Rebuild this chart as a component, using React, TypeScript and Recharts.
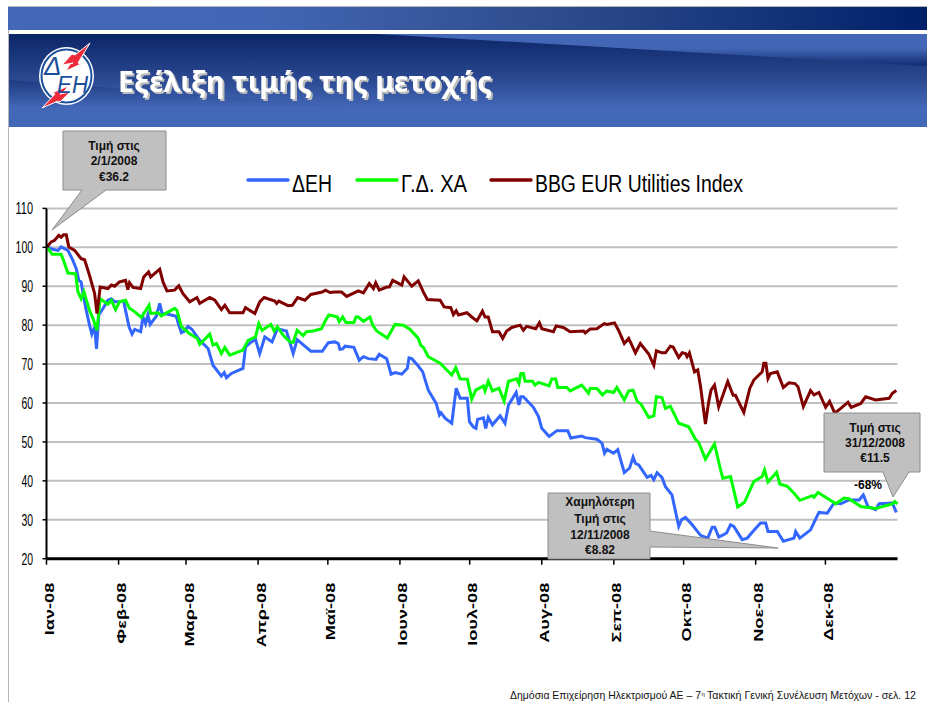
import React from 'react';
import { LineChart, Line, XAxis, YAxis, CartesianGrid } from 'recharts';

const FONT = '"Liberation Sans", Arial, sans-serif';

const monthDays = [0, 31, 60, 91, 121, 152, 182, 213, 244, 274, 305, 335];
const monthLabels = ['Ιαν-08', 'Φεβ-08', 'Μαρ-08', 'Απρ-08', 'Μαϊ-08', 'Ιουν-08', 'Ιουλ-08', 'Αυγ-08', 'Σεπ-08', 'Οκτ-08', 'Νοε-08', 'Δεκ-08'];
const yTicks = [20, 30, 40, 50, 60, 70, 80, 90, 100, 110];

const seriesNames = ['ΔΕΗ', 'Γ.Δ. ΧΑ', 'BBG EUR Utilities Index'];
const seriesColors = ['#3366ff', '#00ff00', '#800000'];

// day of year
const deiDays = [0.2, 2.7, 4.9, 6.3, 9.2, 11.3, 12.8, 13.9, 14.9, 15.7, 17.1, 18.5, 19.5, 20.7, 21.5, 22.5, 24.3, 26.4, 27.9, 29.3, 31.4, 33.2, 34, 35.5, 36.8, 37.9, 40.5, 41.5, 42.6, 43.6, 44.6, 47.2, 48.7, 49.7, 52.3, 55.8, 56.9, 58, 59.4, 60.9, 62.6, 65.9, 69.5, 71.6, 75.2, 76.4, 77.4, 79.5, 84.5, 85.6, 88.1, 89.9, 91.7, 93.9, 97, 99.3, 103.2, 106.1, 107.8, 111.1, 113.7, 118.6, 121.2, 124, 125.5, 126.2, 127.4, 128.4, 132.2, 134.5, 136.3, 138.4, 141.7, 143.1, 146.3, 148.2, 149.9, 152.8, 155.2, 155.9, 157.1, 159.9, 161.8, 164.2, 167.6, 169, 169.7, 171.4, 174.3, 176.2, 177.9, 181, 181.9, 183.5, 184.7, 185.4, 187.9, 188.9, 190, 191.8, 195.1, 197.2, 198.7, 202, 203.2, 204, 205.1, 209.4, 211.6, 213, 216.2, 219.5, 224.2, 225.5, 230.2, 231.7, 236.7, 238.9, 240, 241, 243.9, 245.7, 248.5, 250.8, 252.3, 253.3, 254.7, 258.3, 260, 261.2, 262.6, 264.7, 266.2, 269, 271.9, 273.1, 274.8, 277.7, 281.3, 284.4, 286.3, 287.4, 289.1, 290.6, 292.5, 294.2, 295.6, 299.2, 301.4, 303.5, 307.1, 309.3, 310.3, 314.3, 316.9, 321.5, 322.2, 324, 328.6, 332.2, 335.8, 338.7, 341.6, 345.1, 349.5, 351.3, 353.3, 356.6, 358.1, 363.8, 365.5];
const deiValues = [100.1, 99.5, 99.2, 100.1, 99.2, 96.7, 94.5, 91.5, 91.1, 88.1, 83.8, 80, 77.7, 79.6, 73.9, 82.6, 84.3, 86.4, 86.8, 86, 86, 86.2, 83.8, 79.6, 77.7, 78.9, 78.3, 82.1, 80.4, 82.6, 80.2, 82.3, 85.6, 83, 82.8, 82.3, 80, 78.1, 78.5, 79.7, 78.9, 76.1, 74, 69.7, 66.9, 67.8, 66.5, 67.6, 68.9, 74.4, 75.7, 76.3, 72.7, 77, 75.7, 79.1, 78.5, 72.7, 76.3, 74.6, 73.3, 73.3, 75.5, 75.7, 75.3, 73.8, 73.9, 74.6, 74.3, 71, 71.9, 71.4, 71.2, 72.5, 71.4, 67.4, 67.8, 67.4, 68.9, 71.6, 71.4, 69.5, 68, 63.3, 59.9, 56.9, 57.5, 56.1, 54.8, 63.8, 61.2, 61.2, 55.2, 53.9, 53.5, 55.8, 56.2, 53.5, 56.3, 54.4, 56.7, 54.8, 59.5, 62.7, 59.5, 61.6, 61.6, 58.9, 56.5, 53.5, 51.4, 52.9, 52.9, 51, 51.5, 51.1, 50.7, 49.7, 47.1, 48.1, 47.1, 48, 42.1, 43.3, 46.1, 44.5, 44.1, 40.9, 41.4, 40.3, 42.1, 40.9, 38.5, 36.4, 28.3, 30, 30.6, 28.7, 26, 25.3, 28.1, 28.1, 25.6, 26, 26.6, 28.7, 28.3, 24.9, 25.3, 26.8, 29.2, 29.2, 27, 27, 24.5, 25.3, 27, 25.3, 27.4, 31.9, 31.7, 34.3, 34.1, 35.1, 35.1, 36.4, 33.4, 32.6, 34.1, 34.3, 31.9];

const gdDays = [0.2, 2.4, 6.3, 7.3, 9.2, 12.5, 13.5, 14.9, 16.1, 18.5, 20, 21.7, 23.1, 26.4, 27.9, 29.7, 31.4, 34, 35.7, 37.2, 40.8, 44.1, 44.8, 48, 49.4, 55.1, 56.1, 58, 61.6, 64.9, 65.9, 70.2, 71.6, 73.1, 75.2, 76.7, 78.8, 84.5, 86.7, 89.9, 91.3, 92.7, 96.5, 97.9, 99.3, 101.8, 104.7, 106.1, 107.8, 110.4, 111.8, 114.7, 118.3, 119.7, 121.4, 124, 125.1, 125.9, 127.4, 128.8, 132.2, 133.1, 134.1, 136.3, 139.1, 140.3, 142, 146.6, 149.9, 153.5, 156.4, 159.9, 160.9, 162.1, 164.2, 169.3, 174.3, 176, 177.9, 181, 182.9, 184.6, 187.9, 188.6, 190, 191.8, 194.6, 196.8, 198.7, 202.2, 203.2, 204, 205.1, 205.8, 209, 210.1, 211.6, 216.2, 217.3, 219, 219.9, 223.8, 225.2, 230.2, 233.1, 233.8, 236.7, 239.1, 241, 243.9, 245.3, 248.5, 250.4, 252.3, 254, 255.7, 259, 261.2, 262.3, 264.7, 266.2, 268.3, 271.9, 276.2, 279.1, 280.5, 283.4, 287.3, 289.9, 290.9, 294.2, 297.3, 300.2, 304.2, 307.8, 308.8, 310.3, 314, 315.4, 318.6, 321.5, 324, 329.4, 330.1, 331.8, 338, 339.4, 343, 345.1, 350.2, 356.6, 363.8, 364.8, 366];
const gdValues = [100.1, 98.2, 98.2, 96.7, 93.4, 93.2, 88.6, 86.8, 88.6, 83.8, 81.7, 78.7, 86.8, 85.4, 86.4, 84, 86, 86.4, 84.3, 83.8, 82, 85.1, 83, 83.2, 82.4, 84.3, 83.8, 79.6, 77.8, 76.6, 75.1, 77.7, 74.9, 75.3, 72.7, 74.3, 72.3, 73.6, 76.1, 77, 80.4, 78.7, 80.2, 78.5, 79.6, 77.4, 75.7, 75.6, 78.7, 77.3, 78.3, 78.5, 79.1, 80.9, 82.6, 82.3, 82.1, 80.9, 82.1, 80.7, 80.7, 82.1, 82.1, 81, 82.1, 80, 78.5, 76.7, 80.2, 80, 78.9, 76.6, 74.9, 74.3, 71.9, 70.2, 67.2, 69.1, 66.2, 66.1, 61, 63.3, 64.4, 63.1, 65.6, 63.1, 63.8, 60.5, 65.6, 66.2, 65, 67.6, 67.6, 65.6, 65.6, 64.6, 65.3, 64.4, 66.2, 66.2, 64, 64, 63.1, 64.6, 62.5, 63.7, 63.7, 62.1, 63.1, 62.7, 64, 60.8, 63.1, 63.3, 60.5, 59.7, 56.3, 56.7, 61.6, 61.4, 58.6, 59.2, 54.8, 53.9, 50.7, 49.9, 45.6, 49.5, 42.8, 40.7, 41.1, 33.3, 34.5, 39.8, 41.1, 42.8, 39.7, 42.2, 39.2, 38.6, 36.8, 35, 36.2, 35.8, 37, 34.7, 34.1, 35.6, 35.4, 33.4, 32.9, 34.1, 34.7, 34.1];

const bbgDays = [0.2, 2, 3.5, 5.3, 6.3, 7.3, 8.5, 9.6, 12.1, 14.9, 16.4, 18.5, 20.7, 21.7, 23.1, 26.4, 27.9, 29.3, 31.4, 34, 35, 35.7, 37.2, 40.5, 41.8, 43.9, 44.8, 48.7, 50.1, 51.8, 55.1, 56.9, 58.7, 61.6, 64.7, 65.9, 70.2, 72.4, 75.2, 76.7, 78.8, 84.5, 85.6, 89.6, 91.7, 93.6, 98.2, 99, 99.9, 103.9, 105.7, 108, 111.1, 113.7, 118.6, 120, 121.9, 124, 126.9, 129.1, 134.1, 136.3, 138.8, 140.6, 141.6, 143.1, 146.3, 147.5, 148.9, 152.8, 153.8, 157.1, 159.9, 162.1, 163.8, 169.3, 171, 173.9, 175, 176.2, 177.2, 180.8, 182.9, 185.1, 187.5, 188.6, 190, 191.8, 194.6, 196.2, 197.9, 200.1, 203.7, 205.1, 206.5, 210.4, 212, 213, 218, 219.2, 222.3, 225.2, 231, 231.7, 233.8, 236.7, 239.9, 241, 244.3, 246, 248.5, 250.4, 253.3, 255.4, 259, 261.2, 262.3, 264.7, 266.2, 268.3, 269.5, 271.9, 273.4, 274.8, 275.5, 276.5, 278.7, 280.1, 281.3, 283.4, 284.8, 285.8, 287.3, 289.1, 293, 295.3, 296.3, 299.9, 302.5, 304.2, 307.8, 308.5, 309.4, 310.3, 311.4, 314.3, 316.9, 319.3, 321.9, 323.2, 325.5, 328.6, 330.1, 332.2, 335.1, 336.8, 339, 341.6, 344.7, 346.1, 350.2, 352.3, 356.6, 362.4, 363.8, 365.5];
const bbgValues = [100.1, 101.4, 101.8, 103.1, 102.6, 103.2, 103.2, 100.1, 99.2, 97.1, 96.8, 92.8, 88.1, 83, 89.8, 89.4, 90.3, 90, 91.1, 91.5, 89.1, 90.9, 89.7, 89.4, 92.4, 93.7, 92.4, 94.4, 91.1, 88.8, 89, 90.1, 88.1, 86, 87.1, 85.6, 87.1, 86.4, 84, 85.1, 83.2, 83.2, 84.5, 83, 86, 87.1, 86.2, 85.6, 86.2, 85, 85.1, 87.1, 86.4, 87.9, 88.5, 89, 88.4, 88.5, 88.5, 87.4, 88.8, 88.3, 90.7, 89.4, 90.9, 89, 89.8, 89.8, 91.5, 90.3, 92.4, 90, 91.4, 88.5, 86.6, 86.4, 84.7, 84.5, 82.7, 83.7, 82.6, 83.2, 82.1, 81.1, 83.6, 82.1, 82.1, 78.3, 78.3, 76.6, 78.5, 79.4, 80, 78.7, 79.7, 79.1, 80.6, 79.1, 78.3, 79.8, 79.4, 78.3, 78.5, 78, 79, 79.1, 80.4, 80.2, 80.6, 78.7, 75.3, 76.6, 72.9, 75.3, 72.6, 69.7, 73.4, 72.9, 72.9, 74.6, 74.4, 71.7, 72.9, 72.7, 71.9, 72.9, 68, 68.5, 64.2, 54.6, 60.3, 63.3, 64.6, 59, 65.5, 62, 62, 57.6, 63.8, 65.9, 68, 70.2, 70.2, 66.3, 67.6, 68, 64, 65.2, 65, 64.2, 59.1, 63.2, 62.1, 62.7, 58.9, 60.4, 57.4, 58.6, 60.2, 58.9, 59.9, 61.6, 60.8, 61.2, 62.5, 63.2];

const toPoints = (days: number[], values: number[]) =>
  days.map((day, i) => ({ day, value: values[i] }));

const MonthTick = ({ x, y, index }: any) => (
  <text
    transform={`translate(${x + 7.5},${y + 18}) rotate(-90) scale(1.3,0.95)`}
    textAnchor="end"
    fontFamily={FONT}
    fontWeight="bold"
    fontSize={14}
    fill="#000"
  >
    {monthLabels[index]}
  </text>
);

const ValueTick = ({ y, payload }: any) => {
  const label = String(payload.value);
  return (
    <text
      x={33}
      y={y + 6}
      textAnchor="end"
      fontFamily={FONT}
      fontSize={16}
      fill="#000"
      textLength={label.length * 5.8}
      lengthAdjust="spacingAndGlyphs"
    >
      {label}
    </text>
  );
};

const Callout = ({ shape, lines, cx, ys }: { shape: string; lines: string[]; cx: number; ys: number[] }) => (
  <g>
    <path d={shape} fill="#c0c0c0" stroke="#8c8c8c" strokeWidth={1} />
    {lines.map((line, i) => (
      <text key={line} x={cx} y={ys[i]} textAnchor="middle" fontFamily={FONT} fontWeight="bold" fontSize={12} fill="#111">
        {line}
      </text>
    ))}
  </g>
);

const Header = () => (
  <svg width={927} height={130} style={{ position: 'absolute', left: 0, top: 0 }}>
    <defs>
      <linearGradient id="topBar" x1="0" y1="0" x2="1" y2="0">
        <stop offset="0" stopColor="#4468b8" />
        <stop offset="0.28" stopColor="#4366b4" />
        <stop offset="0.6" stopColor="#2e4c8c" />
        <stop offset="1" stopColor="#00206a" />
      </linearGradient>
      <linearGradient id="bannerBase" x1="0" y1="0" x2="0" y2="1">
        <stop offset="0" stopColor="#0b2567" />
        <stop offset="0.5" stopColor="#2c4a92" />
        <stop offset="0.8" stopColor="#4468b8" />
        <stop offset="1" stopColor="#4468b8" />
      </linearGradient>
      <linearGradient id="bannerLow" x1="0" y1="0" x2="0" y2="1">
        <stop offset="0" stopColor="#1d3a80" />
        <stop offset="0.6" stopColor="#4468b8" />
        <stop offset="1" stopColor="#4468b8" />
      </linearGradient>
      <linearGradient id="bannerSliver" x1="0" y1="0" x2="0" y2="1">
        <stop offset="0" stopColor="#4468b8" />
        <stop offset="0.45" stopColor="#4266b4" />
        <stop offset="1" stopColor="#0f2a70" />
      </linearGradient>
    </defs>
    <rect x={8} y={7} width={919} height={23} fill="url(#topBar)" />
    <rect x={9} y={34} width={918} height={93} fill="url(#bannerBase)" />
    <polygon points="9,80 460,115 927,122 927,127 9,127" fill="url(#bannerLow)" />
    <polygon points="377,34 927,34 927,66" fill="url(#bannerSliver)" />

    {/* company logo */}
    <ellipse cx={66.5} cy={76} rx={27.5} ry={29} fill="#fff" />
    <ellipse cx={66.5} cy={76} rx={25} ry={26.5} fill="none" stroke="#1b4f9c" strokeWidth={2} />
    <polygon points="90,43 78,63 81,64 66,71 70,64 73,63 62,65 72,54 75,55" fill="#ee2b3b" stroke="#fff" strokeWidth={1} />
    <polygon points="42,108 55,94 52,93 68,86 63,93 60,94 70,92 60,102 58,101" fill="#ee2b3b" stroke="#fff" strokeWidth={1} />
    <text x={44} y={75} fontFamily={FONT} fontStyle="italic" fontSize={26} fill="#1b4f9c">Δ</text>
    <text x={57} y={93} fontFamily={FONT} fontStyle="italic" fontSize={24} fill="#1b4f9c" textLength={31} lengthAdjust="spacingAndGlyphs">ΕΗ</text>

    <text
      x={118}
      y={92}
      fontFamily='"Noto Sans", sans-serif'
      fontWeight="bold"
      fontSize={29}
      fill="#fff"
      textLength={374}
      lengthAdjust="spacingAndGlyphs"
      style={{ filter: 'drop-shadow(2px 2px 0 #bcbcbc)' }}
    >
      Εξέλιξη τιμής της μετοχής
    </text>
  </svg>
);

const legendLines = [248, 357, 491];
const legendWidths = [40, 66, 208];

const Overlay = () => (
  <svg width={927} height={702} style={{ position: 'absolute', left: 0, top: 0, pointerEvents: 'none' }}>
    {seriesNames.map((name, i) => (
      <g key={name}>
        <line x1={legendLines[i]} x2={legendLines[i] + 40} y1={180} y2={180} stroke={seriesColors[i]} strokeWidth={3.5} strokeLinecap="round" />
        <text
          x={legendLines[i] + 44}
          y={192}
          fontFamily={FONT}
          fontSize={23}
          fill="#000"
          textLength={legendWidths[i]}
          lengthAdjust="spacingAndGlyphs"
        >
          {name}
        </text>
      </g>
    ))}

    <Callout
      shape="M63 131 H166 V190 H106 L52 230 L82 190 H63 Z"
      lines={['Τιμή στις', '2/1/2008', '€36.2']}
      cx={114}
      ys={[150, 165, 181]}
    />
    <Callout
      shape="M824 413 H920 V472 H909 L893 497 L883 472 H824 Z"
      lines={['Τιμή στις', '31/12/2008', '€11.5']}
      cx={875}
      ys={[432, 447, 462]}
    />
    <Callout
      shape="M548 493 H650 V531 L778 548 L650 547 V559 H548 Z"
      lines={['Χαμηλότερη', 'Τιμή στις', '12/11/2008', '€8.82']}
      cx={600}
      ys={[506, 523, 539, 554]}
    />
    <text x={868} y={489} textAnchor="middle" fontFamily={FONT} fontWeight="bold" fontSize={12} fill="#000">-68%</text>

    <text x={510} y={699} fontFamily={FONT} fontSize={11} fill="#111" textLength={191} lengthAdjust="spacingAndGlyphs">
      Δημόσια Επιχείρηση Ηλεκτρισμού ΑΕ – 7
    </text>
    <text x={701.5} y={696} fontFamily={FONT} fontSize={6} fill="#111">η</text>
    <text x={707} y={699} fontFamily={FONT} fontSize={11} fill="#111" textLength={209} lengthAdjust="spacingAndGlyphs">
      Τακτική Γενική Συνέλευση Μετόχων - σελ. 12
    </text>
  </svg>
);

export default function App() {
  return (
    <div style={{ position: 'absolute', left: 0, top: 0, width: 927, height: 702, background: '#fff', overflow: 'hidden' }}>
      <div style={{ position: 'absolute', left: 7.5, top: 6, width: 919, height: 696, borderLeft: '1px solid #b4b4b4', borderTop: '1px solid #b4b4b4' }} />
      <Header />
      <div style={{ position: 'absolute', left: 0, top: 0 }}>
        <LineChart width={927} height={702} margin={{ top: 208.4, right: 29.5, bottom: 0, left: 0 }}>
          <CartesianGrid horizontal vertical={false} stroke="#c0c0c0" strokeWidth={2} strokeOpacity={1} />
          <XAxis
            dataKey="day"
            type="number"
            domain={[0, 366]}
            ticks={monthDays}
            interval={0}
            height={143.3}
            tickSize={6}
            tickMargin={0}
            tick={MonthTick}
            axisLine={{ stroke: '#000', strokeWidth: 3 }}
            tickLine={{ stroke: '#000', strokeWidth: 1.5 }}
          />
          <YAxis
            type="number"
            domain={[20, 110]}
            ticks={yTicks}
            interval={0}
            width={46.5}
            tickSize={4}
            tick={ValueTick}
            axisLine={{ stroke: '#000', strokeWidth: 2 }}
            tickLine={{ stroke: '#000', strokeWidth: 1.5 }}
          />
          <Line data={toPoints(deiDays, deiValues)} dataKey="value" name={seriesNames[0]} stroke={seriesColors[0]} strokeWidth={3} dot={false} activeDot={false} isAnimationActive={false} />
          <Line data={toPoints(gdDays, gdValues)} dataKey="value" name={seriesNames[1]} stroke={seriesColors[1]} strokeWidth={3} dot={false} activeDot={false} isAnimationActive={false} />
          <Line data={toPoints(bbgDays, bbgValues)} dataKey="value" name={seriesNames[2]} stroke={seriesColors[2]} strokeWidth={3} dot={false} activeDot={false} isAnimationActive={false} />
        </LineChart>
      </div>
      <Overlay />
    </div>
  );
}
